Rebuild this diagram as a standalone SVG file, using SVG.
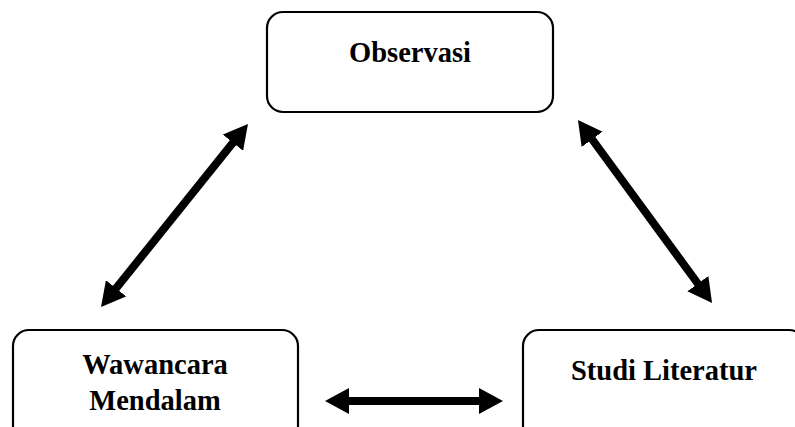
<svg xmlns="http://www.w3.org/2000/svg" width="795" height="427" viewBox="0 0 795 427">
<style>
.box{fill:#fff;stroke:#000;stroke-width:2.2}
.lbl{font-family:'Liberation Serif','Times New Roman',serif;font-weight:bold;font-size:28.5px;fill:#000;text-anchor:middle}
.arr{stroke:#000;stroke-width:8;fill:none;marker-start:url(#head);marker-end:url(#head)}
</style>
<defs>
<marker id="head" markerUnits="userSpaceOnUse" markerWidth="24" markerHeight="26" viewBox="0 0 24 26" refX="6" refY="13" orient="auto-start-reverse">
<path d="M0,0 L24,13 L0,26 Z" fill="#000"/>
</marker>
</defs>
<rect width="795" height="427" fill="#fff"/>
<g id="observasi">
<rect class="box" x="267" y="12" width="286" height="100" rx="16"/>
<text class="lbl" x="410" y="62">Observasi</text>
</g>
<g id="wawancara">
<rect class="box" x="13" y="330" width="285" height="115" rx="16"/>
<text class="lbl" x="155" y="374">Wawancara</text>
<text class="lbl" x="155" y="410">Mendalam</text>
</g>
<g id="studi">
<rect class="box" x="523" y="330" width="282" height="115" rx="16"/>
<text class="lbl" x="664" y="380">Studi Literatur</text>
</g>
<g id="connectors">
<line class="arr" x1="236.7" y1="138" x2="112.3" y2="293"/>
<line class="arr" x1="588.6" y1="134.5" x2="701.4" y2="288.5"/>
<line class="arr" x1="343" y1="401" x2="485" y2="401"/>
</g>
</svg>
